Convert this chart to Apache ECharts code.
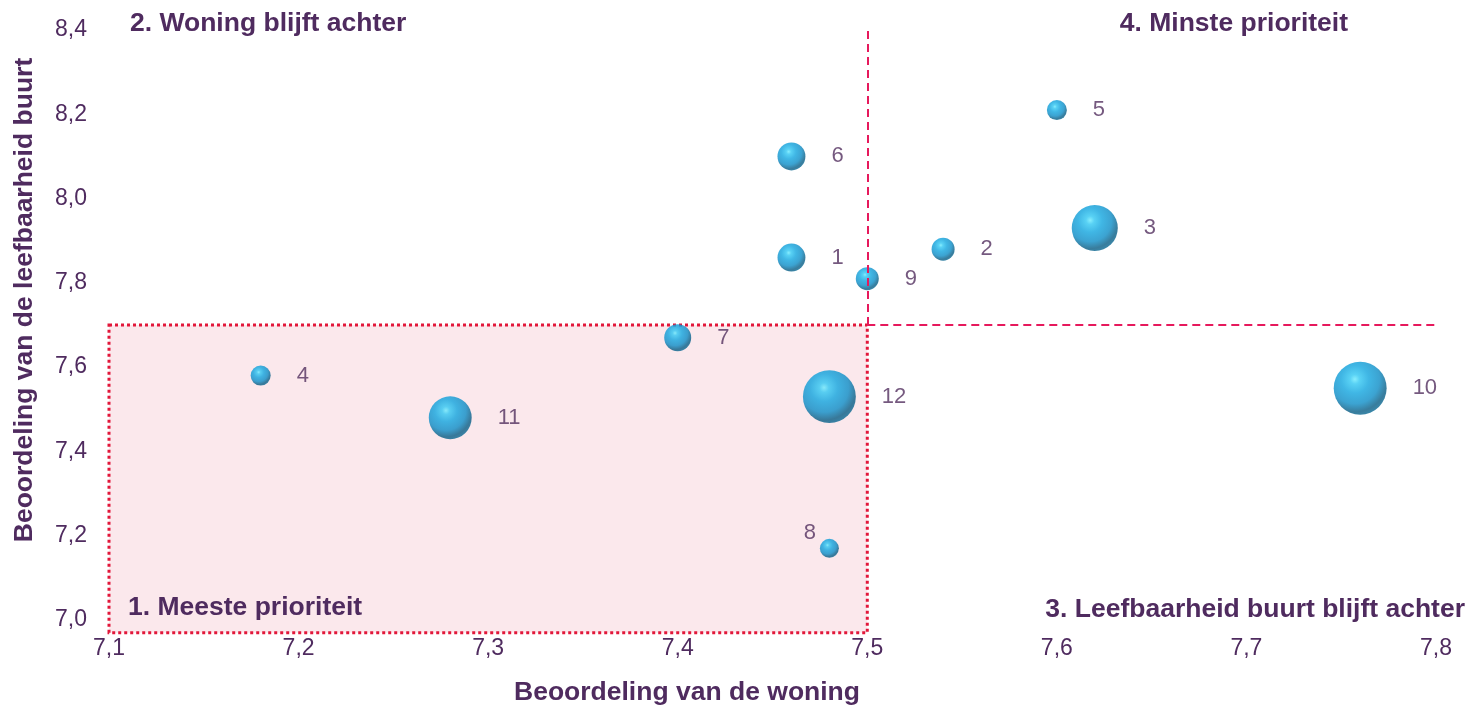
<!DOCTYPE html>
<html>
<head>
<meta charset="utf-8">
<script src="https://cdn.jsdelivr.net/npm/echarts@6/dist/echarts.min.js"></script>
<style>
  html, body { margin: 0; padding: 0; background: #fff; }
  #chart { width: 1468px; height: 708px; }
</style>
</head>
<body>
<div id="chart"></div>
<script>
// wijk nummers, beoordeling woning (x), beoordeling buurt (y), gewicht (bubble)
const wijken = ['1', '2', '3', '4', '5', '6', '7', '8', '9', '10', '11', '12'];
const woning = [7.46, 7.54, 7.62, 7.18, 7.60, 7.46, 7.40, 7.48, 7.50, 7.76, 7.28, 7.48];
const buurt = [7.86, 7.88, 7.93, 7.58, 8.21, 8.10, 7.67, 7.17, 7.81, 7.55, 7.48, 7.53];
const gewicht = [195, 132, 530, 100, 100, 195, 182, 90, 132, 700, 460, 700];

const grensWoning = 7.5;
const grensBuurt = 7.7;
// kwadrant 1 (meeste prioriteit): x-van, y-van, x-tot, y-tot
const kwadrant1 = [7.1, 6.97, grensWoning, grensBuurt];

const paars = '#4f2b5f';
const font = "'Liberation Sans', Arial, sans-serif";
const fmt = (v) => v.toFixed(1).replace('.', ',');

const chart = echarts.init(document.getElementById('chart'));

const bol = {
    type: 'radial', x: 0.4, y: 0.33, r: 0.75,
    colorStops: [
        { offset: 0, color: '#6ae9fd' },
        { offset: 0.12, color: '#2fc6f2' },
        { offset: 0.35, color: '#10a4de' },
        { offset: 0.62, color: '#0b8cc6' },
        { offset: 0.82, color: '#075c84' },
        { offset: 0.92, color: '#086892' },
        { offset: 1, color: '#15a3dc' },
    ],
};

const data = wijken.map((w, i) => {
    const item = { name: w, value: [woning[i], buurt[i], gewicht[i]] };
    if (w === '8') {
        item.label = { position: 'left', distance: 4, offset: [0, -15] };
    }
    return item;
});

const bold = (txt, extra) => ({
    type: 'text', z: 100,
    ...extra,
    style: { text: txt, fill: paars, font: "bold 26.5px " + font, ...(extra.style || {}) },
});

chart.setOption({
    animation: false,
    textStyle: { fontFamily: font },
    grid: { left: 109, right: 32, top: 30, bottom: 88 },
    xAxis: {
        type: 'value', min: 7.1, max: 7.8, interval: 0.1,
        axisLine: { show: false }, axisTick: { show: false }, splitLine: { show: false },
        axisLabel: { color: paars, fontSize: 23, margin: 17, formatter: fmt },
    },
    yAxis: {
        type: 'value', min: 7.0, max: 8.4, interval: 0.2,
        axisLine: { show: false }, axisTick: { show: false }, splitLine: { show: false },
        axisLabel: { color: paars, fontSize: 23, margin: 22, formatter: fmt },
    },
    series: [
        {
            type: 'custom',
            z: 1,
            silent: true,
            data: [kwadrant1],
            renderItem: (params, api) => {
                const p0 = api.coord([api.value(0), api.value(1)]);
                const p1 = api.coord([api.value(2), api.value(3)]);
                return {
                    type: 'rect',
                    shape: { x: p0[0], y: p1[1], width: p1[0] - p0[0], height: p0[1] - p1[1] },
                    style: { fill: '#fbe8ec', stroke: '#e2173a', lineWidth: 3, lineDash: [3, 3] },
                };
            },
        },
        {
            type: 'scatter',
            z: 3,
            clip: false,
            data: data,
            symbolSize: (v) => 2 * Math.sqrt(v[2]),
            itemStyle: { color: bol },
            label: {
                show: true, position: 'right', distance: 26,
                formatter: (p) => p.name, color: '#53305f', fontSize: 22,
            },
            markLine: {
                silent: true, symbol: 'none', label: { show: false },
                lineStyle: { color: '#e6195c', width: 2, type: [8, 5] },
                data: [
                    [{ coord: [grensWoning, grensBuurt] }, { coord: [grensWoning, 8.4] }],
                    [{ coord: [grensWoning, grensBuurt] }, { coord: [7.8, grensBuurt] }],
                ],
            },
        },
    ],
    graphic: [
        bold('2. Woning blijft achter', { left: 130, top: 10 }),
        bold('4. Minste prioriteit', { right: 120, top: 10 }),
        bold('1. Meeste prioriteit', { left: 128, top: 594 }),
        bold('3. Leefbaarheid buurt blijft achter', { right: 3, top: 596 }),
        bold('Beoordeling van de woning', { x: 687, y: 693, style: { textAlign: 'center', textVerticalAlign: 'middle' } }),
        bold('Beoordeling van de leefbaarheid buurt', { x: 25, y: 300, rotation: Math.PI / 2, style: { textAlign: 'center', textVerticalAlign: 'middle' } }),
    ],
});
</script>
</body>
</html>
